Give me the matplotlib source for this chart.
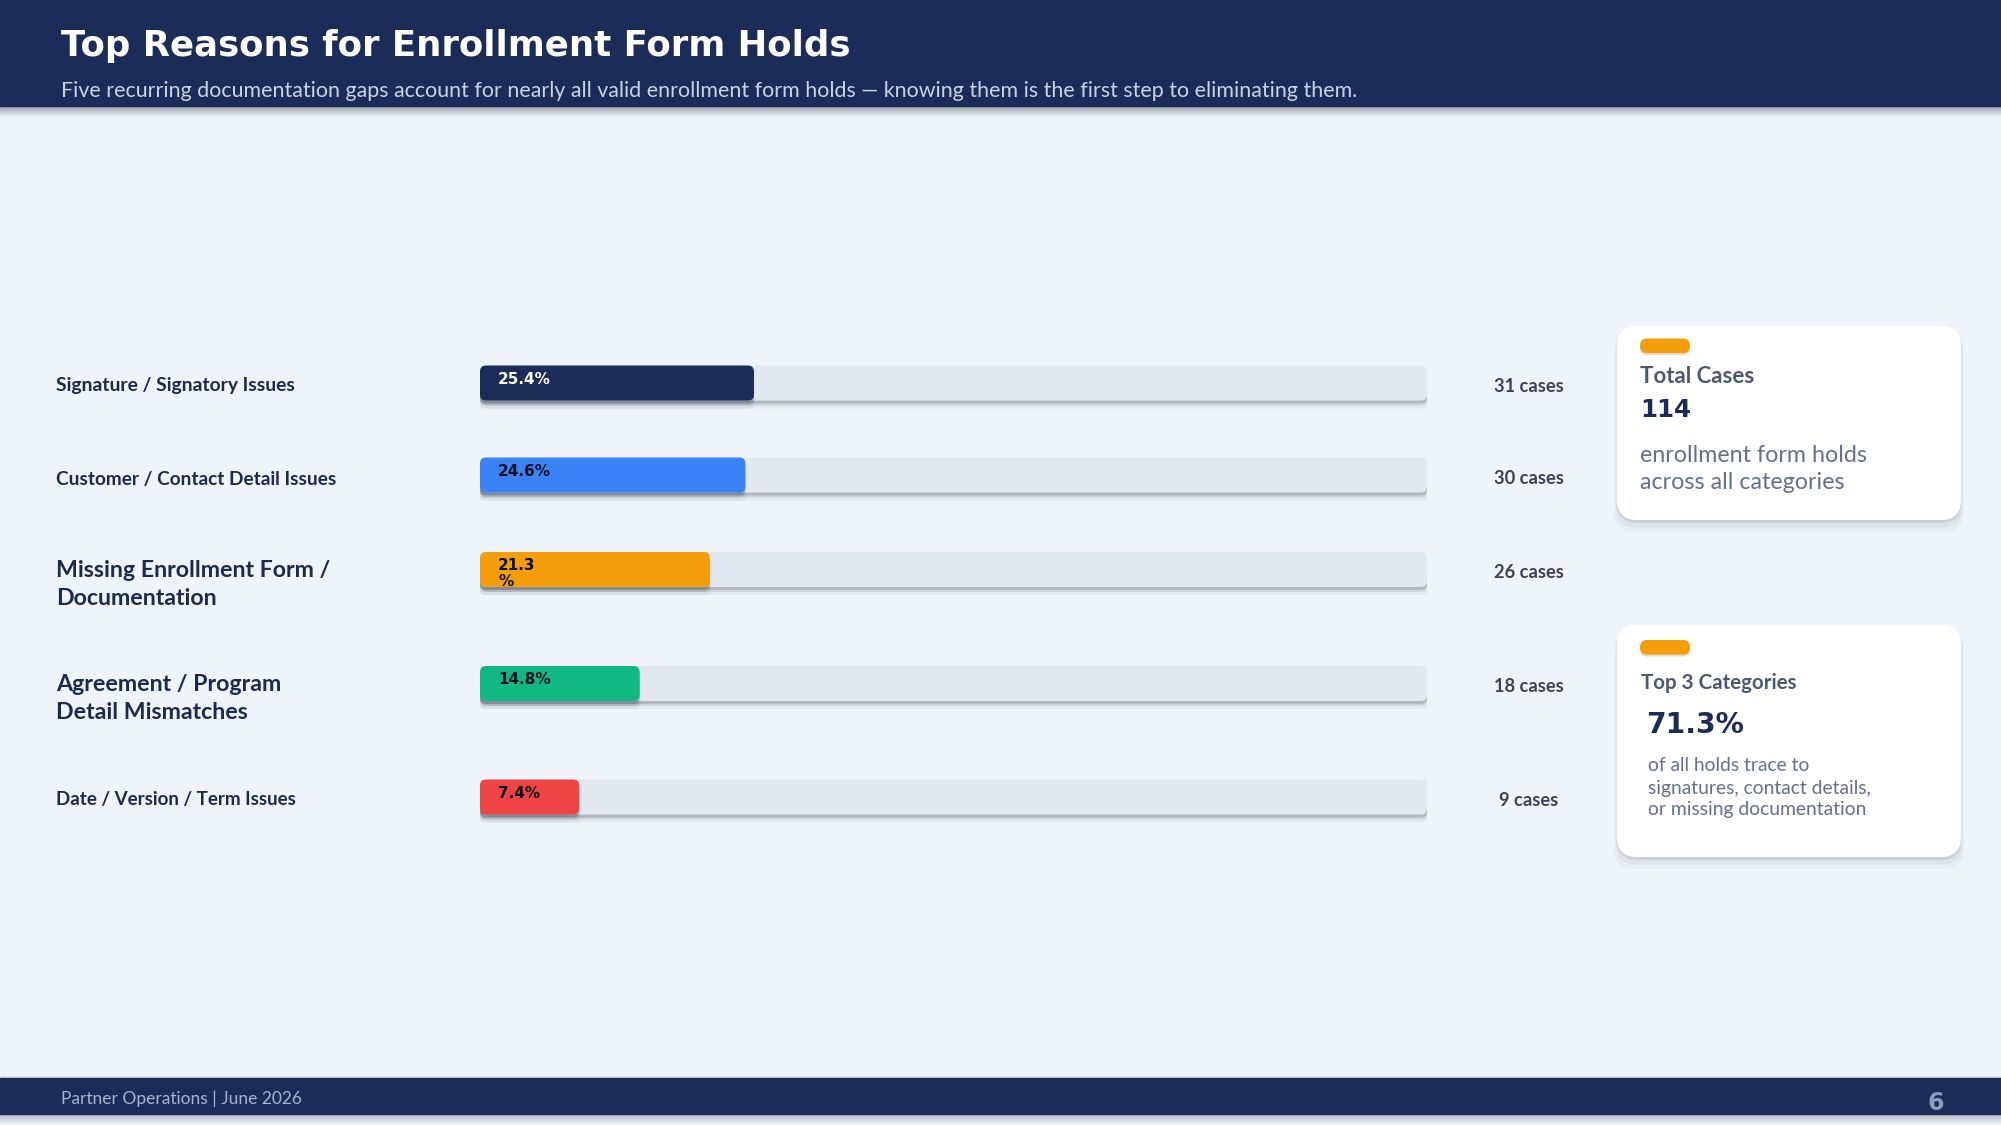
import matplotlib
matplotlib.use("Agg")
import matplotlib.pyplot as plt
from matplotlib.patches import FancyBboxPatch, Rectangle

# ---------------- data ----------------
CATEGORIES = [
    "Signature / Signatory Issues",
    "Customer / Contact Detail Issues",
    "Missing Enrollment Form /\nDocumentation",
    "Agreement / Program\nDetail Mismatches",
    "Date / Version / Term Issues",
]
PCT = [25.4, 24.6, 21.3, 14.8, 7.4]
PCT_LABELS = ["25.4%", "24.6%", "21.3\n%", "14.8%", "7.4%"]
CASES = [31, 30, 26, 18, 9]
TOTAL_CASES = 114
TOP3_SHARE = 71.3

TITLE = "Top Reasons for Enrollment Form Holds"
SUBTITLE = ("Five recurring documentation gaps account for nearly all valid enrollment form holds "
            "\u2014 knowing them is the first step to eliminating them.")
FOOTER = "Partner Operations | June 2026"
PAGE = "6"

# ---------------- style / layout ----------------
NAVY = "#1c2c58"
BG = "#eff3fa"
TRACK = "#e2e8f0"
COLORS = ["#1c2c58", "#3b82f6", "#f59e0b", "#10b981", "#ef4444"]
LABEL_COLORS = ["white", "#0b1020", "#0b1020", "#0b1020", "#0b1020"]
ORANGE = "#f59e0b"
LATO = ["Lato", "DejaVu Sans"]
DJ = ["DejaVu Sans"]

W, H = 2001, 1125
X0, X1 = 480, 1427          # track span in pixels
XMAX = 87.8                 # data units spanned by the track
MIN_FILL = 9.2              # minimum visible fill (data units)
ROW_Y = [383, 475, 569.5, 683.5, 797]
BAR_H = 35
LABEL_W = [238, 280, 275, 225, 241]
LABEL_DY = [2, 4, 15, 15, 2]

fig = plt.figure(figsize=(W / 100, H / 100), dpi=100)
fig.patch.set_facecolor(BG)
R = fig.canvas.get_renderer()


def fit(t, target):
    for _ in range(2):
        bb = t.get_window_extent(renderer=R)
        t.set_fontsize(t.get_fontsize() * target / bb.width)
    return t.get_fontsize()


bg = fig.add_axes([0, 0, 1, 1])
bg.set_xlim(0, W)
bg.set_ylim(H, 0)
bg.axis("off")
bg.set_zorder(0)

# header band + shadow
bg.add_patch(Rectangle((0, 0), W, 106, color=NAVY, zorder=3))
for i in range(12):
    bg.add_patch(Rectangle((0, 106 + i), W, 1, color="#1a2030",
                           alpha=0.40 * (1 - i / 12) ** 1.3, lw=0, zorder=2))
t = bg.text(61, 56, TITLE, color="white", fontsize=25, fontweight="bold",
            family=DJ, va="baseline", ha="left", zorder=4)
fit(t, 789)
t = bg.text(61, 97, SUBTITLE, color="#c9d3e6", fontsize=15, family=LATO,
            va="baseline", ha="left", zorder=4)
fit(t, 1289)

# footer band + shadow
for i in range(11):
    bg.add_patch(Rectangle((0, 1114 + i), W, 1, color="#1a2030",
                           alpha=0.28 * (1 - i / 11) ** 1.3, lw=0, zorder=2))
bg.add_patch(Rectangle((0, 1076), W, 2, color="#dde5f2", lw=0, zorder=2))
bg.add_patch(Rectangle((0, 1078), W, 36, color=NAVY, zorder=3))
t = bg.text(61, 1099, FOOTER, color="#a7b4cc", fontsize=12, family=LATO,
            va="center", ha="left", zorder=4)
fit(t, 240)
bg.text(1936, 1103, PAGE, color="#8c9dbd", fontsize=17, fontweight="bold",
        family=DJ, va="center", ha="center", zorder=4)

# ---------------- bars ----------------
ax = fig.add_axes([X0 / W, 0, (X1 - X0) / W, 1])
ax.set_xlim(0, XMAX)
ax.set_ylim(H, 0)
ax.axis("off")
ax.set_zorder(1)
pxx = (X1 - X0) / XMAX   # pixels per x data unit


def rounded(a, rect, color, r_px, z, dy=0, alpha=1.0, grow=0):
    x, y, w, h = rect.get_x(), rect.get_y(), rect.get_width(), rect.get_height()
    p = FancyBboxPatch((x - grow / pxx, y + dy - grow), w + 2 * grow / pxx, h + 2 * grow,
                       boxstyle=f"round,pad=0,rounding_size={r_px / pxx}",
                       mutation_aspect=pxx, fc=color, ec="none", alpha=alpha, zorder=z)
    a.add_patch(p)
    return p


tracks = ax.barh(ROW_Y, [XMAX] * len(PCT), height=BAR_H, left=0)
fills = ax.barh(ROW_Y, [max(p, MIN_FILL) for p in PCT], height=BAR_H, left=0)
for rect in list(tracks) + list(fills):
    rect.set_visible(False)

for i, (tr, fl) in enumerate(zip(tracks, fills)):
    # drop shadows
    for dy, al, g in [(7, 0.05, 1), (5, 0.10, 0), (3, 0.16, 0)]:
        rounded(ax, tr, "#1e2433", 6, 1, dy=dy, alpha=al, grow=g)
        rounded(ax, fl, "#1e2433", 6, 2.5, dy=dy, alpha=al, grow=g)
    rounded(ax, tr, TRACK, 6, 2)
    rounded(ax, fl, COLORS[i], 6, 3)
    ax.text(fl.get_x() + 18 / pxx, fl.get_y() + 6.5, PCT_LABELS[i],
            color=LABEL_COLORS[i], fontsize=11, fontweight="bold", family=DJ,
            va="top", ha="left", linespacing=1.0, zorder=4)

# category labels and case counts
for i, cat in enumerate(CATEGORIES):
    big = "\n" in cat
    t = bg.text(56, ROW_Y[i] + LABEL_DY[i], cat, color="#1c2a4e",
                fontsize=16 if big else 13, fontweight="bold", family=LATO,
                va="center", ha="left", linespacing=1.45, zorder=4)
    fit(t, LABEL_W[i])

case_texts = []
for i, c in enumerate(CASES):
    case_texts.append(bg.text(1529, ROW_Y[i] + 3, f"{c} cases", color="#3a4456",
                              fontsize=13, fontweight="bold", family=LATO,
                              va="center", ha="center", zorder=4))
cs = fit(case_texts[0], 70)
for t in case_texts[1:]:
    t.set_fontsize(cs)

# ---------------- KPI cards ----------------
def card(y0, h):
    for dy, al, g in [(9, 0.03, 3), (6, 0.05, 1.5), (3, 0.09, 0)]:
        bg.add_patch(FancyBboxPatch((1617 - g, y0 + dy - g), 344 + 2 * g, h + 2 * g,
                                    boxstyle="round,pad=0,rounding_size=20",
                                    fc="#1e2433", ec="none", alpha=al, zorder=2))
    bg.add_patch(FancyBboxPatch((1617, y0), 344, h, boxstyle="round,pad=0,rounding_size=20",
                                fc="white", ec="none", zorder=3))


def pill(y0):
    bg.add_patch(FancyBboxPatch((1640, y0 + 2.5), 50, 14,
                                boxstyle="round,pad=0,rounding_size=7",
                                fc="#8a6a2a", ec="none", alpha=0.25, zorder=3.5))
    bg.add_patch(FancyBboxPatch((1640, y0), 50, 14.5, boxstyle="round,pad=0,rounding_size=7",
                                fc=ORANGE, ec="none", zorder=4))


card(326, 194)
pill(338.5)
t = bg.text(1640, 383, "Total Cases", color="#4b5873", fontsize=16, fontweight="bold",
            family=LATO, va="baseline", ha="left", zorder=5)
fit(t, 114)
t = bg.text(1640, 417, f"{TOTAL_CASES}", color=NAVY, fontsize=18, fontweight="bold",
            family=DJ, va="baseline", ha="left", zorder=5)
fit(t, 51)
t1 = bg.text(1640, 462, "enrollment form holds", color="#64718a", fontsize=16,
             family=LATO, va="baseline", ha="left", zorder=5)
s = fit(t1, 227)
bg.text(1640, 489, "across all categories", color="#64718a", fontsize=s,
        family=LATO, va="baseline", ha="left", zorder=5)

card(625, 232)
pill(640)
t = bg.text(1641, 689, "Top 3 Categories", color="#4b5873", fontsize=16, fontweight="bold",
            family=LATO, va="baseline", ha="left", zorder=5)
fit(t, 156)
t = bg.text(1646, 733, f"{TOP3_SHARE}%", color=NAVY, fontsize=21, fontweight="bold",
            family=DJ, va="baseline", ha="left", zorder=5)
fit(t, 98)
lines = ["of all holds trace to", "signatures, contact details,", "or missing documentation"]
base = [771, 794, 815]
t2 = bg.text(1648, base[1], lines[1], color="#64718a", fontsize=13, family=LATO,
             va="baseline", ha="left", zorder=5)
s2 = fit(t2, 223)
for ln, yb in [(lines[0], base[0]), (lines[2], base[2])]:
    bg.text(1648, yb, ln, color="#64718a", fontsize=s2, family=LATO,
            va="baseline", ha="left", zorder=5)

fig.savefig("out.png", dpi=100, facecolor=BG)
